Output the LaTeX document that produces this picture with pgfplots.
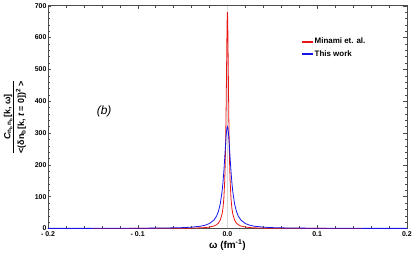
\documentclass[border=0pt]{standalone}
\usepackage{fontspec}
\setmainfont{Liberation Sans}
\usepackage{pgfplots}
\pgfplotsset{compat=1.18}
\definecolor{mred}{RGB}{235,20,20}
\definecolor{mblue}{RGB}{20,20,235}
\begin{document}
\begin{tikzpicture}
\begin{axis}[
  scale only axis, width=361bp, height=224bp,
  xmin=-0.2, xmax=0.2, ymin=0, ymax=700,
  xtick={-0.2,-0.1,0,0.1,0.2},
  xticklabels={- 0.2,- 0.1,0.0,0.1,0.2},
  ytick={0,100,...,700},
  minor x tick num=4, minor y tick num=4,
  tick align=inside,
  major tick length=3.5bp, minor tick length=2bp,
  tick style={gray!60!black, line width=0.4pt},
  axis line style={gray!60!black, line width=0.6pt},
  ticklabel style={font=\fontsize{7bp}{8bp}\selectfont\bfseries},
  xticklabel style={yshift=0.5pt},
  yticklabel style={xshift=2pt},
  /pgf/number format/assume math mode=true,
  xlabel={\textbf{ω (fm\textsuperscript{-1})}},
  xlabel style={font=\fontsize{10bp}{11bp}\selectfont, yshift=3pt},
  ylabel={\begin{tabular}{@{}c@{}}\textbf{\textit{C}\textsubscript{n\textsubscript{b}\,n\textsubscript{b}}[k, ω]}\\[0pt]\hline\rule{0pt}{10.5bp}\textbf{<(δn\textsubscript{b}[k, \textit{t} = 0])\textsuperscript{2} >}\end{tabular}},
  ylabel style={font=\fontsize{9bp}{10bp}\selectfont, yshift=1pt},
  legend style={at={(0.7,0.875)}, anchor=north west, draw=none, fill=none,
    font=\fontsize{8bp}{9bp}\selectfont\bfseries, row sep=1.5bp,
    /tikz/every even column/.append style={column sep=3bp}},
  legend cell align=left,
  legend image code/.code={\fill[#1] (0bp,-0.6bp) rectangle (10bp,0.6bp);},
]
\draw[gray!30, line width=0.4pt] (axis cs:0,0) -- (axis cs:0,700);
\addplot[mred, line width=0.8pt, forget plot] coordinates {
(-0.2,0.0435) (-0.15,0.077) (-0.1,0.174) (-0.07,0.355) (-0.05,0.695) (-0.04,1.087)
(-0.03,1.93) (-0.025,2.77) (-0.02,4.32) (-0.015,7.65) (-0.012,11.88) (-0.01,16.97)
(-0.008,26.15) (-0.006,45.15) (-0.005,63.16) (-0.004,93.79) (-0.003,150.6)
(-0.0025,197.6) (-0.002,265.4) (-0.0015,361.9) (-0.001,488.9) (-0.0005,619.5)
(-0.00025,663.8) (0,680) (0.00025,663.8)
(0.0005,619.5) (0.001,488.9) (0.0015,361.9) (0.002,265.4) (0.0025,197.6)
(0.003,150.6) (0.004,93.79) (0.005,63.16) (0.006,45.15) (0.008,26.15)
(0.01,16.97) (0.012,11.88) (0.015,7.65) (0.02,4.32) (0.025,2.77) (0.03,1.93)
(0.04,1.087) (0.05,0.695) (0.07,0.355) (0.1,0.174) (0.15,0.077) (0.2,0.0435)
};
\addplot[mblue, line width=0.8pt, forget plot] coordinates {
(-0.2,0.162) (-0.15,0.288) (-0.1,0.647) (-0.07,1.317) (-0.05,2.57) (-0.04,4.0)
(-0.03,7.04) (-0.025,10.04) (-0.02,15.42) (-0.015,26.42) (-0.012,39.45) (-0.01,53.89)
(-0.008,76.92) (-0.006,115.2) (-0.005,143.2) (-0.004,178.8) (-0.003,221.5)
(-0.0025,244.5) (-0.002,267.2) (-0.0015,288.0) (-0.001,304.9) (-0.0005,316.1)
(0,320)
(0.0005,316.1) (0.001,304.9) (0.0015,288.0) (0.002,267.2) (0.0025,244.5)
(0.003,221.5) (0.004,178.8) (0.005,143.2) (0.006,115.2) (0.008,76.92)
(0.01,53.89) (0.012,39.45) (0.015,26.42) (0.02,15.42) (0.025,10.04) (0.03,7.04)
(0.04,4.0) (0.05,2.57) (0.07,1.317) (0.1,0.647) (0.15,0.288) (0.2,0.162)
};
\addlegendimage{fill=mred, color=mred}
\addlegendentry{Minami et. al.}
\addlegendimage{fill=mblue, color=mblue}
\addlegendentry{This work}
\node[font=\fontsize{12bp}{13bp}\selectfont\itshape] at (axis cs:-0.1374,369) {(b)};
\end{axis}
\end{tikzpicture}
\end{document}
